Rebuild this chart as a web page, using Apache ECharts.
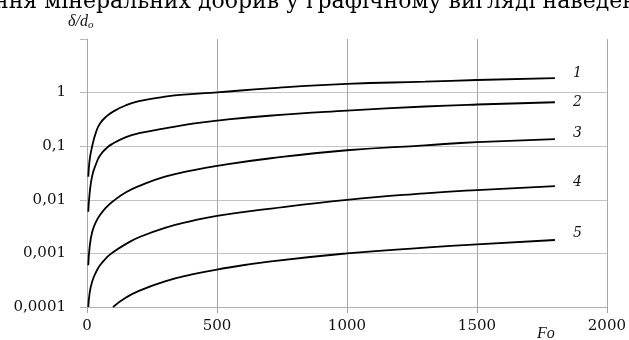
<!DOCTYPE html>
<html>
<head>
<meta charset="utf-8">
<script src="https://cdn.jsdelivr.net/npm/echarts@6/dist/echarts.min.js"></script>
<style>html,body{margin:0;padding:0;background:#fff;}#c{width:629px;height:340px;}</style>
</head>
<body>
<div id="c"></div>
<script>
// Fo values (x)
const foValues = [5, 10, 20, 35, 50, 75, 100, 150, 200, 300, 400, 500, 700, 1000, 1300, 1500, 1800];
// δ/d0 for curves 1..5
const curve1 = [0.027, 0.055, 0.10, 0.185, 0.265, 0.36, 0.44, 0.58, 0.69, 0.84, 0.94, 1.01, 1.2, 1.45, 1.6, 1.72, 1.86];
const curve2 = [0.006, 0.013, 0.028, 0.047, 0.067, 0.092, 0.112, 0.148, 0.175, 0.215, 0.26, 0.30, 0.37, 0.46, 0.55, 0.60, 0.66];
const curve3 = [0.0006, 0.0013, 0.0025, 0.0039, 0.0052, 0.0073, 0.0094, 0.0138, 0.018, 0.027, 0.035, 0.043, 0.059, 0.084, 0.104, 0.119, 0.136];
const curve4 = [0.0001, 0.00018, 0.0003, 0.00045, 0.0006, 0.00083, 0.00105, 0.0015, 0.002, 0.003, 0.004, 0.005, 0.0068, 0.0100, 0.0132, 0.0152, 0.018];
const curve5 = [null, null, null, null, null, null, 0.0001, 0.00015, 0.0002, 0.0003, 0.0004, 0.0005, 0.0007, 0.001, 0.00128, 0.00148, 0.00178];
const curveNames = ['1', '2', '3', '4', '5'];
const labelOffsets = [[0, -5], [0, 0], [0, -6], [0, -4], [0, -7]];
// axis tick labels
const yTickValues = [0.0001, 0.001, 0.01, 0.1, 1];
const yTickLabels = ['0,0001', '0,001', '0,01', '0,1', '1'];
const xTickLabels = ['0', '500', '1000', '1500', '2000'];
const headerText = 'ння мінеральних добрив у графічному вигляді наведені';

const curves = [curve1, curve2, curve3, curve4, curve5];
const chart = echarts.init(document.getElementById('c'), null, {renderer: 'canvas'});
const serif = '"DejaVu Serif", "Liberation Serif", serif';

const series = curves.map((vals, i) => ({
  name: curveNames[i],
  type: 'line',
  data: foValues.map((x, j) => [x, vals[j]]).filter(p => p[1] !== null),
  showSymbol: false,
  symbol: 'none',
  smooth: 0.5,
  z: 5,
  lineStyle: {color: '#000', width: 1.8},
  endLabel: {
    show: true,
    formatter: curveNames[i],
    distance: 18,
    offset: labelOffsets[i],
    fontFamily: serif,
    fontStyle: 'italic',
    fontSize: 14,
    color: '#111'
  },
  animation: false
}));

chart.setOption({
  animation: false,
  grid: {left: 87, right: 20, top: 39, bottom: 33, containLabel: false},
  xAxis: {
    type: 'value', min: 0, max: 2000, interval: 500,
    axisLine: {show: true, lineStyle: {color: '#b0b0b0', width: 1}},
    axisTick: {show: true, length: 6, lineStyle: {color: '#a0a0a0'}},
    splitLine: {show: true, lineStyle: {color: '#a8a8a8', width: 1}},
    axisLabel: {
      margin: 12, fontFamily: serif, fontSize: 15, color: '#111',
      formatter: (v) => xTickLabels[Math.round(v / 500)] || ''
    }
  },
  yAxis: {
    type: 'log', logBase: 10, min: 0.0001, max: 10,
    axisLine: {show: true, lineStyle: {color: '#a8a8a8', width: 1}},
    axisTick: {show: true, length: 7, lineStyle: {color: '#b8b8b8'}},
    splitLine: {show: true, showMaxLine: false, lineStyle: {color: '#c4c4c4', width: 1}},
    axisLabel: {
      margin: 21, fontFamily: serif, fontSize: 15, color: '#111',
      formatter: (v) => {
        for (let k = 0; k < yTickValues.length; k++) {
          if (Math.abs(Math.log10(v) - Math.log10(yTickValues[k])) < 1e-6) return yTickLabels[k];
        }
        return '';
      }
    }
  },
  series: series,
  graphic: [
    {type: 'text', left: -6, top: -9, z: 10,
     style: {text: headerText, font: '22px "DejaVu Serif"', fill: '#000'}},
    {type: 'text', x: 68, y: 12, z: 10,
     style: {text: '{a|δ/d}{b|o}', rich: {
       a: {fontFamily: '"Liberation Serif"', fontStyle: 'italic', fontSize: 16, fill: '#111', color: '#111'},
       b: {fontFamily: '"Liberation Serif"', fontStyle: 'italic', fontSize: 11, fill: '#111', color: '#111', padding: [8, 0, 0, 0]}
     }}},
    {type: 'text', x: 537, y: 326, z: 10,
     style: {text: 'Fo', font: 'italic 16px "Liberation Serif"', fill: '#111'}}
  ]
});
</script>
</body>
</html>
